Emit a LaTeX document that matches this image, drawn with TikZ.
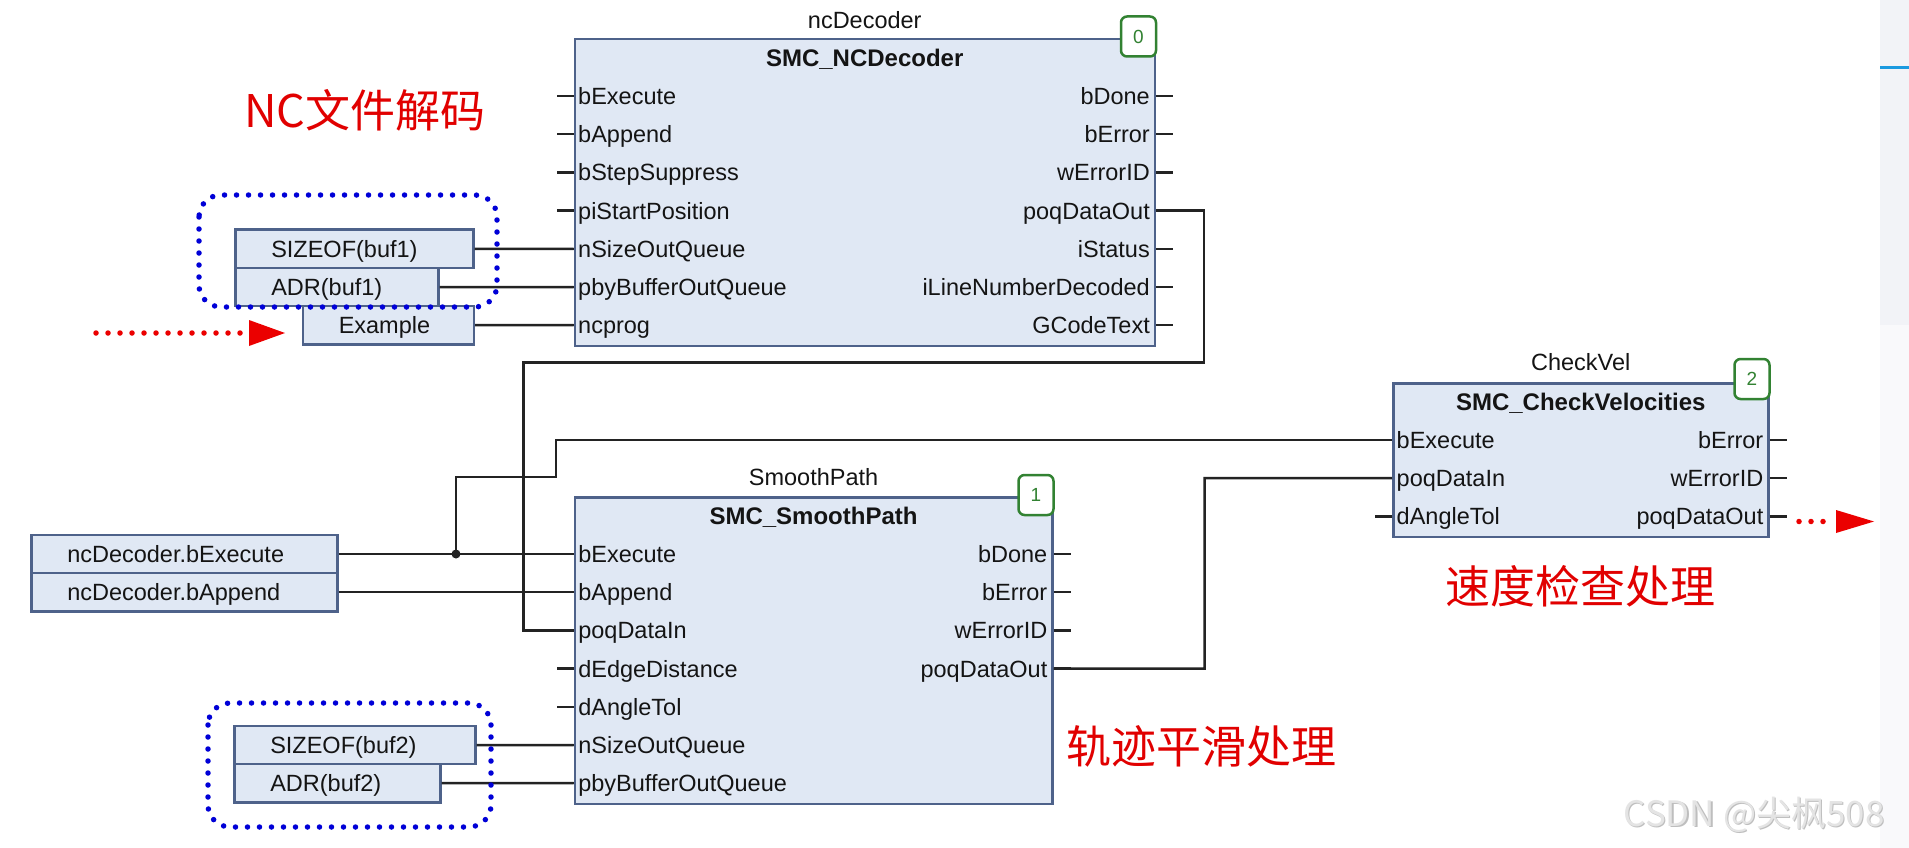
\documentclass[tikz,border=0pt]{standalone}
\usepackage{fontspec}
\setmainfont{Liberation Sans}
\newfontfamily\cjk{Noto Sans CJK SC}
\usetikzlibrary{calc}

\definecolor{fbfill}{RGB}{224,232,244}
\definecolor{fbborder}{RGB}{78,98,138}
\definecolor{wirecol}{RGB}{35,35,35}
\definecolor{txtcol}{RGB}{20,20,20}
\definecolor{badgegreen}{RGB}{50,130,50}
\definecolor{dotblue}{RGB}{0,0,215}
\definecolor{arrowred}{RGB}{235,0,0}
\definecolor{notered}{RGB}{225,0,0}
\definecolor{panelgrey}{RGB}{242,243,247}
\definecolor{panelline}{RGB}{26,154,224}
\definecolor{wmgrey}{RGB}{228,228,228}
\definecolor{wmshade}{RGB}{190,190,190}

\newcommand\fbpinfont{\fontsize{23.5pt}{26pt}\selectfont}
\newcommand\fbtitlefont{\bfseries\fontsize{24pt}{26pt}\selectfont}
\newcommand\fbnotefont{\cjk\fontsize{45pt}{48pt}\selectfont}
\newcommand\wmfont{\cjk\fontsize{35pt}{38pt}\selectfont}

\begin{document}
\begin{tikzpicture}[x=1pt,y=-1pt,
  fb/.style={draw=fbborder, fill=fbfill, line width=2.5pt, rectangle, inner sep=0pt, anchor=north west},
  fbtitle/.style={font=\fbtitlefont, text=txtcol, inner sep=0pt, text height=17pt, text depth=0pt},
  inst/.style={font=\fbpinfont, text=txtcol, inner sep=0pt, text height=16.8pt, text depth=0pt},
  pinl/.style={font=\fbpinfont, text=txtcol, anchor=west, inner sep=0pt, text height=16.8pt, text depth=0pt},
  pinr/.style={font=\fbpinfont, text=txtcol, anchor=east, inner sep=0pt, text height=16.8pt, text depth=0pt},
  stub/.style={draw=wirecol, line width=2.5pt},
  wire/.style={draw=wirecol, line width=2.5pt},
  badge/.style={draw=badgegreen, fill=white, line width=2.5pt, rounded corners=6pt,
    minimum width=35pt, minimum height=40pt, inner sep=0pt, text=badgegreen,
    font=\fontsize{19pt}{20pt}\selectfont},
  inbox/.style={draw=fbborder, fill=fbfill, line width=2.5pt, anchor=west,
    minimum height=38.2pt, inner xsep=36pt, inner ysep=0pt, align=left,
    font=\fbpinfont, text=txtcol, text height=16.8pt, text depth=0pt},
  bluedots/.style={draw=dotblue, line width=5.5pt, line cap=round, dash pattern=on 0pt off 12pt, rounded corners=22pt},
  reddots/.style={draw=arrowred, line width=5.5pt, line cap=round, dash pattern=on 0pt off 12pt},
  note/.style={text=notered, font=\fbnotefont, inner sep=0pt}
]
\useasboundingbox (0,0) rectangle (1909,848);
\fill[white] (0,0) rectangle (1909,848);

% side panel at the right edge
\fill[panelgrey] (1880,0) rectangle (1909,325);
\fill[panelgrey!50!white] (1880,325) rectangle (1909,848);
\draw[panelline, line width=3pt] (1880,68) -- (1909,68);

% ---------------- function blocks ----------------
\node[fb, minimum width=580pt, minimum height=306.7pt] (ncd) at (573.5,38) {};
\node[inst] at ($(ncd.north)+(0,-18)$) {ncDecoder};
\node[fbtitle] at ($(ncd.north)+(0,20)$) {SMC\_NCDecoder};
\node[badge] (ncdbadge) at ($(ncd.north east)+(-17.5,-1.5)$) {0};

\node[fb, minimum width=477.4pt, minimum height=306.7pt] (sp) at (573.6,496) {};
\node[inst] at ($(sp.north)+(0,-19)$) {SmoothPath};
\node[fbtitle] at ($(sp.north)+(0,20)$) {SMC\_SmoothPath};
\node[badge] (spbadge) at ($(sp.north east)+(-17.5,-1)$) {1};

\node[fb, minimum width=375pt, minimum height=153.5pt] (cv) at (1392,382) {};
\node[inst] at ($(cv.north)+(0,-20)$) {CheckVel};
\node[fbtitle] at ($(cv.north)+(0,19.5)$) {SMC\_CheckVelocities};
\node[badge] (cvbadge) at ($(cv.north east)+(-17.5,-3)$) {2};

% pins: stub, coordinate and label for every input and output
\foreach \lbl [count=\k from 0] in {bExecute,bAppend,bStepSuppress,piStartPosition,nSizeOutQueue,pbyBufferOutQueue,ncprog} {
  \coordinate (ncd-i\k) at ($(ncd.north west)+(0,58+38.2*\k)$);
  \draw[stub] (ncd-i\k) -- ++(-17,0);
  \node[pinl] at ($(ncd-i\k)+(4.5,0)$) {\lbl};
}
\foreach \lbl [count=\k from 0] in {bDone,bError,wErrorID,poqDataOut,iStatus,iLineNumberDecoded,GCodeText} {
  \coordinate (ncd-o\k) at ($(ncd.north east)+(0,58+38.2*\k)$);
  \draw[stub] (ncd-o\k) -- ++(17,0);
  \node[pinr] at ($(ncd-o\k)+(-6,0)$) {\lbl};
}
\foreach \lbl [count=\k from 0] in {bExecute,bAppend,poqDataIn,dEdgeDistance,dAngleTol,nSizeOutQueue,pbyBufferOutQueue} {
  \coordinate (sp-i\k) at ($(sp.north west)+(0,58+38.2*\k)$);
  \draw[stub] (sp-i\k) -- ++(-17,0);
  \node[pinl] at ($(sp-i\k)+(4.5,0)$) {\lbl};
}
\foreach \lbl [count=\k from 0] in {bDone,bError,wErrorID,poqDataOut} {
  \coordinate (sp-o\k) at ($(sp.north east)+(0,58+38.2*\k)$);
  \draw[stub] (sp-o\k) -- ++(17,0);
  \node[pinr] at ($(sp-o\k)+(-6,0)$) {\lbl};
}
\foreach \lbl [count=\k from 0] in {bExecute,poqDataIn,dAngleTol} {
  \coordinate (cv-i\k) at ($(cv.north west)+(0,58+38.2*\k)$);
  \draw[stub] (cv-i\k) -- ++(-17,0);
  \node[pinl] at ($(cv-i\k)+(4.5,0)$) {\lbl};
}
\foreach \lbl [count=\k from 0] in {bError,wErrorID,poqDataOut} {
  \coordinate (cv-o\k) at ($(cv.north east)+(0,58+38.2*\k)$);
  \draw[stub] (cv-o\k) -- ++(17,0);
  \node[pinr] at ($(cv-o\k)+(-6,0)$) {\lbl};
}

% ---------------- input variables ----------------
\node[inbox, text width=166pt] (sz1) at (234,248.8) {SIZEOF(buf1)};
\node[inbox, text width=131pt] (adr1) at (234,287) {ADR(buf1)};
\node[inbox, text width=99pt] (ex) at (301.5,325.2) {Example};
\node[inbox, text width=234pt] (ncx) at (30,554) {ncDecoder.bExecute};
\node[inbox, text width=234pt] (nca) at (30,592.2) {ncDecoder.bAppend};
\node[inbox, text width=169pt] (sz2) at (233,745) {SIZEOF(buf2)};
\node[inbox, text width=134pt] (adr2) at (233,783.2) {ADR(buf2)};

% ---------------- connections ----------------
\draw[wire] (sz1.east) -- (ncd-i4);
\draw[wire] (adr1.east) -- (ncd-i5);
\draw[wire] (ex.east) -- (ncd-i6);

\coordinate (qA) at (1204,362.7);
\coordinate (qB) at (523.5,362.7);
\draw[wire] (ncd-o3) -| (qA) -- (qB) |- (sp-i2);

\draw[wire] (ncx.east) -- (sp-i0);
\draw[wire] (nca.east) -- (sp-i1);
\coordinate (jn) at (456,554);
\coordinate (stepB) at (556,477);
\draw[wire] (jn) |- (stepB) |- (cv-i0);
\fill[wirecol] (jn) circle (4.5pt);

\draw[wire] (sz2.east) -- (sp-i5);
\draw[wire] (adr2.east) -- (sp-i6);

\coordinate (qC) at (1204.7,668.6);
\draw[wire] (sp-o3) -- (qC) |- (cv-i1);

% ---------------- groupings and pointers ----------------
\draw[bluedots] (199,195) rectangle (497,307);
\draw[bluedots] (208,703) rectangle (491,827);

\coordinate (rdotA) at (96,333);
\coordinate (rdotAend) at (241,333);
\coordinate (rtipA) at (285,333);
\draw[reddots] (rdotA) -- (rdotAend);
\fill[arrowred] (rtipA) -- ++(-36,-13) -- ++(0,26) -- cycle;

\coordinate (rdotB) at (1799,521.5);
\coordinate (rdotBend) at (1824,521.5);
\coordinate (rtipB) at (1874,521.5);
\draw[reddots] (rdotB) -- (rdotBend);
\fill[arrowred] (rtipB) -- ++(-38,-11.5) -- ++(0,23) -- cycle;

% ---------------- annotations ----------------
\node[note] (noteA) at (365,110) {NC文件解码};
\node[note] (noteB) at (1201.5,746) {轨迹平滑处理};
\node[note] (noteC) at (1580,586) {速度检查处理};

% watermark, embossed
\node[text=wmshade, font=\wmfont, inner sep=0pt] at (1755.2,816.2) {CSDN @尖枫508};
\node[text=wmgrey, font=\wmfont, inner sep=0pt] (wm) at (1754,815) {CSDN @尖枫508};
\end{tikzpicture}
\end{document}
